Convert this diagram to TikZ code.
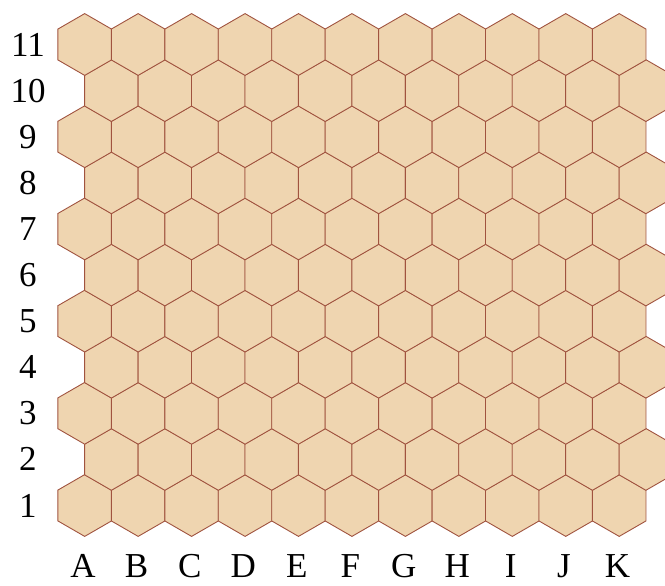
\documentclass[tikz,border=0pt]{standalone}
\usepackage{fontspec}
\setmainfont{Liberation Serif}
\usetikzlibrary{positioning}
\definecolor{hexfill}{HTML}{EFD5B0}
\definecolor{hexline}{HTML}{A0533F}
\tikzset{
  hex cell/.style={fill=hexfill,draw=hexline,line width=0.9pt,line join=miter},
  row label/.style={font=\fontsize{35}{40}\selectfont,anchor=center,inner sep=0pt},
  col label/.style={font=\fontsize{35}{40}\selectfont,anchor=base,inner sep=0pt},
}
\newcommand{\hexr}{30.9}

\begin{document}
\begin{tikzpicture}[x=1pt,y=-1pt]
  \useasboundingbox (0,0) rectangle (665,586);
  \clip (0,0) rectangle (665,586);
  % hex cells, odd rows flush left, even rows shifted half a cell
  \foreach \n in {1,...,11}{
    \foreach \c in {0,...,10}{
      \pgfmathsetmacro{\cx}{84.7+53.45*\c+(1-mod(\n,2))*26.7}
      \pgfmathsetmacro{\cy}{44.5+(11-\n)*46.1}
      \coordinate (h-\n-\c) at (\cx,\cy);
      \draw[hex cell] (h-\n-\c) +(30:\hexr) -- +(90:\hexr) -- +(150:\hexr)
        -- +(210:\hexr) -- +(270:\hexr) -- +(330:\hexr) -- cycle;
    }
  }
  % row numbers
  \foreach \n in {1,...,11}{
    \pgfmathsetmacro{\cy}{44.5+(11-\n)*46.1}
    \node[row label] (row-\n) at (28,\cy) {\n};
  }
  % column letters
  \foreach \l [count=\i from 0] in {A,B,C,D,E,F,G,H,I,J,K}{
    \pgfmathsetmacro{\cx}{83+53.45*\i}
    \node[col label] (col-\l) at (\cx,577.5) {\l};
  }
\end{tikzpicture}
\end{document}
